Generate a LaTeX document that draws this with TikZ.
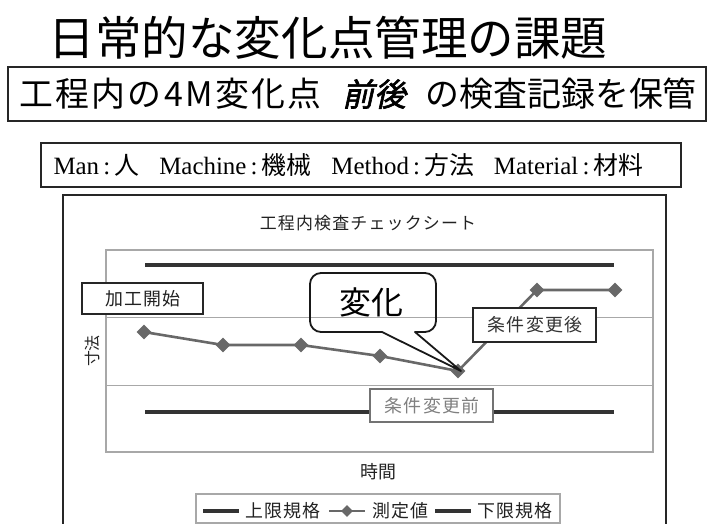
\documentclass[tikz,border=0pt]{standalone}
\usepackage{fontspec}
\setmainfont{Liberation Serif}
\newfontfamily\jp{Noto Sans CJK JP}
\newfontfamily\jpls[LetterSpace=7]{Noto Sans CJK JP}
\newfontfamily\jpsl[FakeSlant=0.22,FakeBold=2]{Noto Sans CJK JP}
\usetikzlibrary{shapes.geometric,calc}
\definecolor{dk}{HTML}{333333}
\definecolor{dat}{HTML}{686868}
\definecolor{grd}{HTML}{A8A8A8}
\definecolor{txt}{HTML}{222222}
\tikzset{
  px/.style={x=1bp,y=-1bp},
  frame/.style={draw=black!85,line width=1.8bp},
  label box/.style={draw=black!85,line width=1.3bp,fill=white,inner sep=0pt,minimum height=31bp,font=\jpls\fontsize{18}{19}\selectfont,text=dk},
  limit/.style={draw=dk,line width=3.5bp},
  dataline/.style={draw=dat,line width=2.6bp},
  dia/.style={diamond,fill=dat,inner sep=0pt,minimum size=15bp},
  grid line/.style={draw=grd,line width=1bp},
  legend line/.style={draw=dk,line width=3.5bp},
  legend text/.style={anchor=west,inner sep=0pt,font=\jpls\fontsize{18}{19}\selectfont,text=txt},
}
\begin{document}
\begin{tikzpicture}[px]
\useasboundingbox (0,0) rectangle (708,524);
% title
\node (title) at (328,38) {\jp\fontsize{46.7}{50}\selectfont 日常的な変化点管理の課題};
% box 2
\draw[frame] (8,67) rectangle (706,121);
\node[anchor=west,inner sep=0pt] (sub1) at (19,94) {\jpls\fontsize{34}{36}\selectfont 工程内の4M変化点};
\node[inner sep=0pt] (sub2) at (374,94) {\jpsl\fontsize{32}{34}\selectfont 前後};
\node[anchor=east,inner sep=0pt] (sub3) at (697,94) {\jp\fontsize{34}{36}\selectfont の検査記録を保管};
% 4M box
\draw[frame] (41,143) rectangle (681,187);
\node[anchor=west] (fourm) at (50,165) {\fontsize{25}{27}\selectfont Man\,:\,{\jp 人}\hspace{20bp}Machine\,:\,{\jp 機械}\hspace{20bp}Method\,:\,{\jp 方法}\hspace{20bp}Material\,:\,{\jp 材料}};
% chart frame (bottom edge off the picture)
\draw[frame] (63,524) -- (63,195) -- (666,195) -- (666,524);
\node (ctitle) at (368,223) {\jpls\fontsize{17}{18}\selectfont\color{txt}工程内検査チェックシート};
% plot area
\draw[grid line] (106,317) -- (653,317);
\draw[grid line] (106,385) -- (653,385);
\draw[draw=grd,line width=1.6bp] (106,250) rectangle (653,452);
% limits
\coordinate (u1) at (145,265); \coordinate (u2) at (614,265);
\coordinate (l1) at (145,412); \coordinate (l2) at (614,412);
\draw[limit] (u1) -- (u2);
\draw[limit] (l1) -- (l2);
% data
\coordinate (p1) at (144,332);
\coordinate (p2) at (223,345);
\coordinate (p3) at (301,345);
\coordinate (p4) at (380,356);
\coordinate (p5) at (458,371);
\coordinate (p6) at (537,290);
\coordinate (p7) at (615,290);
\draw[dataline] (p1) -- (p2) -- (p3) -- (p4) -- (p5) -- (p6) -- (p7);
\foreach \p in {p1,p2,p3,p4,p5,p6,p7} \node[dia] at (\p) {};
% axis labels
\node[rotate=90] (ylab) at (92,351) {\jp\fontsize{16}{17}\selectfont\color{txt}寸法};
\node (xlab) at (378,472) {\jp\fontsize{18}{19}\selectfont\color{txt}時間};
% label boxes
\node[label box,minimum width=121bp,text=txt] (start) at (142.5,298.5) {\hspace{1bp}加工開始};
\node[label box,minimum width=123bp,minimum height=34bp,text=dk] (after) at (534.5,325) {\hspace{1bp}条件変更後};
\node[label box,draw=black!55,minimum width=123bp,minimum height=33bp,text=black!50] (before) at (431.5,405.5) {\hspace{1bp}条件変更前};
% callout
\draw[black!90,line width=1.8bp,line join=round] (382,332) -- (461,371) -- (415,332) [rounded corners=11bp] -- (436,332) -- (436,273) -- (310,273) -- (310,332) [sharp corners] -- cycle;
\node (change) at (371,302) {\jp\fontsize{32}{34}\selectfont 変化};
% legend
\draw[draw=grd,line width=1.3bp] (196,494) rectangle (560,523);
\coordinate (a1) at (203,511); \coordinate (a2) at (239,511);
\coordinate (b1) at (329,511); \coordinate (b2) at (365,511);
\coordinate (c1) at (435,511); \coordinate (c2) at (471,511);
\draw[legend line] (a1) -- (a2);
\draw[dataline] (b1) -- (b2);
\node[dia,minimum size=12bp] at ($(b1)!0.5!(b2)$) {};
\draw[legend line] (c1) -- (c2);
\node[legend text] (lg1) at (245,511) {上限規格};
\node[legend text] (lg2) at (372,511) {測定値};
\node[legend text] (lg3) at (477,511) {下限規格};
\end{tikzpicture}
\end{document}
